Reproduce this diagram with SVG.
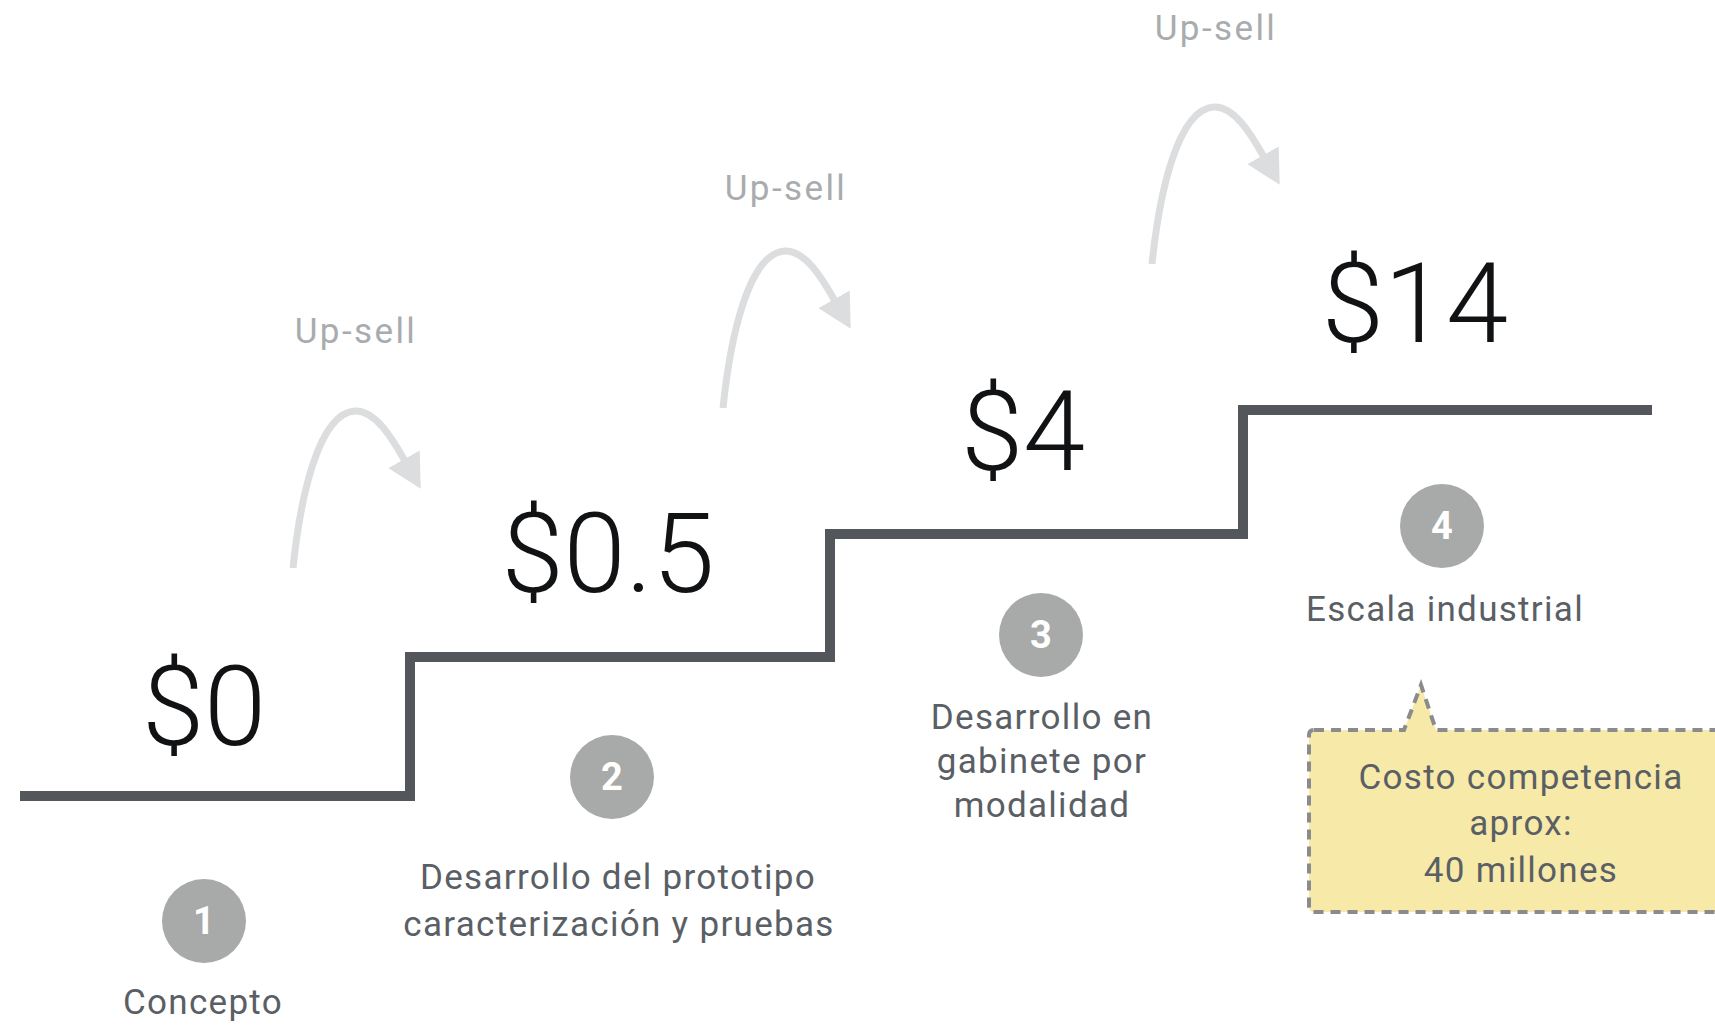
<svg xmlns="http://www.w3.org/2000/svg" width="1715" height="1025" viewBox="0 0 1715 1025">
<style>
.price{font-family:Roboto,"Liberation Sans",sans-serif;font-weight:300;font-size:112px;fill:#111214;text-anchor:middle}
.lbl{font-family:Roboto,"Liberation Sans",sans-serif;font-size:35px;letter-spacing:1.3px;fill:#5a5f66;text-anchor:middle}
.up{font-family:Roboto,"Liberation Sans",sans-serif;font-size:35px;letter-spacing:2.4px;fill:#a8acae;text-anchor:middle}
.badge{fill:#a7aaa8}
.num{font-family:Roboto,"Liberation Sans",sans-serif;font-weight:700;font-size:38px;fill:#ffffff;text-anchor:middle}
.arc{fill:none;stroke:#dcdddf;stroke-width:7;marker-end:url(#ah)}
.stair{fill:none;stroke:#53575c;stroke-width:10}
</style>
<defs>
<marker id="ah" markerUnits="userSpaceOnUse" viewBox="0 0 34 36" markerWidth="34" markerHeight="36" refX="2" refY="18" orient="auto">
<path d="M0 0 L34 18 L0 36 Z" fill="#dcdddf"/>
</marker>
</defs>
<rect width="1715" height="1025" fill="#ffffff"/>
<g id="connectors">
<path class="stair" d="M20 796 H410 V657 H830 V534 H1243 V410 H1652"/>
<path class="arc" d="M293 568 C300 500 318 413 355 411 C375 410 392 438 405 461"/>
<path class="arc" transform="translate(430 -160)" d="M293 568 C300 500 318 413 355 411 C375 410 392 438 405 461"/>
<path class="arc" transform="translate(859 -304)" d="M293 568 C300 500 318 413 355 411 C375 410 392 438 405 461"/>
</g>
<g id="upsell-1"><text class="up" x="356" y="343">Up-sell</text></g>
<g id="upsell-2"><text class="up" x="786" y="200">Up-sell</text></g>
<g id="upsell-3"><text class="up" x="1216" y="40">Up-sell</text></g>
<g id="price-0"><text class="price" x="204" y="745">$0</text></g>
<g id="price-05"><text class="price" x="608" y="592">$0.5</text></g>
<g id="price-4"><text class="price" x="1023" y="470">$4</text></g>
<g id="price-14"><text class="price" x="1415" y="342">$14</text></g>
<g id="step-1">
<circle class="badge" cx="204" cy="921" r="42"/>
<text class="num" x="204" y="934">1</text>
<text class="lbl" x="203" y="1014">Concepto</text>
</g>
<g id="step-2">
<circle class="badge" cx="612" cy="777" r="42"/>
<text class="num" x="612" y="790">2</text>
<text class="lbl" x="618" y="889">Desarrollo del prototipo</text>
<text class="lbl" x="619" y="936">caracterización y pruebas</text>
</g>
<g id="step-3">
<circle class="badge" cx="1041" cy="635" r="42"/>
<text class="num" x="1041" y="648">3</text>
<text class="lbl" x="1042" y="729">Desarrollo en</text>
<text class="lbl" x="1042" y="773">gabinete por</text>
<text class="lbl" x="1042" y="817">modalidad</text>
</g>
<g id="step-4">
<circle class="badge" cx="1442" cy="526" r="42"/>
<text class="num" x="1442" y="539">4</text>
<text class="lbl" x="1445" y="621">Escala industrial</text>
</g>
<g id="callout">
<path d="M1314 730 H1404 L1421 685 L1436 730 H1740 V912 H1314 Q1309 912 1309 907 V735 Q1309 730 1314 730 Z" fill="#f7e9a7" stroke="#898b8d" stroke-width="4" stroke-dasharray="10 7"/>
<text class="lbl" x="1521" y="789">Costo competencia</text>
<text class="lbl" x="1521" y="835">aprox:</text>
<text class="lbl" x="1521" y="882">40 millones</text>
</g>
</svg>
